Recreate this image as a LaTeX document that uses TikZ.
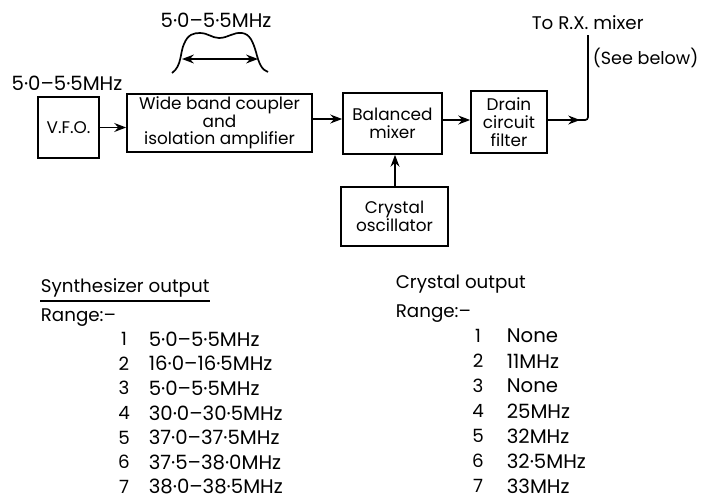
\documentclass[tikz,border=0pt]{standalone}
\usepackage{fontspec}
\setmainfont{Poppins}
\usepackage{tikz}
\usetikzlibrary{arrows.meta, calc, positioning, decorations.markings}

\begin{document}
\begin{tikzpicture}[x=0.025cm, y=-0.025cm, >=Stealth, line width=1.2pt,
    block/.style={draw, align=center, inner sep=1pt, font=\fontsize{12}{12.6}\selectfont},
    lbl/.style={font=\fontsize{14}{16}\selectfont, inner sep=0pt},
    row/.style={font=\fontsize{13}{15}\selectfont, inner sep=0pt, anchor=west}]
    \useasboundingbox (0,0) rectangle (702,501);

    % blocks of the synthesizer
    \node[block, minimum width=61*0.025cm, minimum height=61*0.025cm] (vfo) at (68.5,127.5) {V.F.O.};
    \node[block, minimum width=185*0.025cm, minimum height=58*0.025cm] (wide) at (219.5,123) {Wide band coupler\\ and\\ isolation amplifier};
    \node[block, minimum width=99*0.025cm, minimum height=61*0.025cm] (bal) at (392.5,123.5) {Balanced\\ mixer};
    \node[block, minimum width=76*0.025cm, minimum height=62*0.025cm] (drain) at (509,122) {Drain\\ circuit\\ filter};
    \node[block, minimum width=107*0.025cm, minimum height=59*0.025cm] (xtal) at (394.5,216.5) {Crystal\\ oscillator};
    \coordinate (rx) at (588,35);

    % connectors
    \draw[->] (vfo.east) -- (wide.west |- vfo.east);
    \draw[->] (wide.east |- 0,119) -- (bal.west |- 0,119);
    \draw[->] (bal.east |- 0,120) -- (drain.west |- 0,120);
    \draw[->] (xtal.north -| 395,0) -- (bal.south -| 395,0);
    \draw[rounded corners=2pt, postaction={decorate},
        decoration={markings, mark=at position 0.26 with {\arrow{Stealth}}}]
        (drain.east |- 0,120) -| (rx);

    % labels
    \node[lbl] (vfolbl) at (67,83) {5·0–5·5MHz};
    \node[lbl] (bandlbl) at (216,20) {5·0–5·5MHz};
    \node[row] (rxlbl) at (531,23) {To R.X. mixer};
    \node[row, font=\fontsize{12.5}{14}\selectfont] (seelbl) at (592,58) {(See below)};

    % pass band sketch
    \draw (172,73) .. controls (182,66) and (180,52) .. (184,44)
        .. controls (188,34) and (194,33) .. (200,33)
        .. controls (208,33) and (212,38) .. (219,38)
        .. controls (228,38) and (233,32) .. (242,33)
        .. controls (250,34) and (253,42) .. (256,52)
        .. controls (259,64) and (262,70) .. (268,72);
    \draw[<->] (182,59) -- (258,59);

    % synthesizer table
    \node[row] (synth) at (40,288) {Synthesizer output};
    \draw (synth.south west) ++(0,3) -- ($(synth.south east)+(0,3)$);
    \node[row] (srange) at (40,318) {Range:–};
    \foreach \n/\f [count=\i from 0] in {1/5·0–5·5MHz, 2/16·0–16·5MHz, 3/5·0–5·5MHz,
        4/30·0–30·5MHz, 5/37·0–37·5MHz, 6/37·5–38·0MHz, 7/38·0–38·5MHz}
    {
        \node[row, anchor=center] (sn\n) at (124,339+24.6*\i) {\n};
        \node[lbl, anchor=west] (sf\n) at (148,339+24.6*\i) {\f};
    }

    % crystal table
    \node[row] (xout) at (395,284) {Crystal output};
    \node[row] (xrange) at (395,314) {Range:–};
    \foreach \n/\f [count=\i from 0] in {1/None, 2/11MHz, 3/None,
        4/25MHz, 5/32MHz, 6/32·5MHz, 7/33MHz}
    {
        \node[row, anchor=center] (xn\n) at (478,336+25*\i) {\n};
        \node[lbl, anchor=west] (xf\n) at (506,336+25*\i) {\f};
    }
\end{tikzpicture}
\end{document}
